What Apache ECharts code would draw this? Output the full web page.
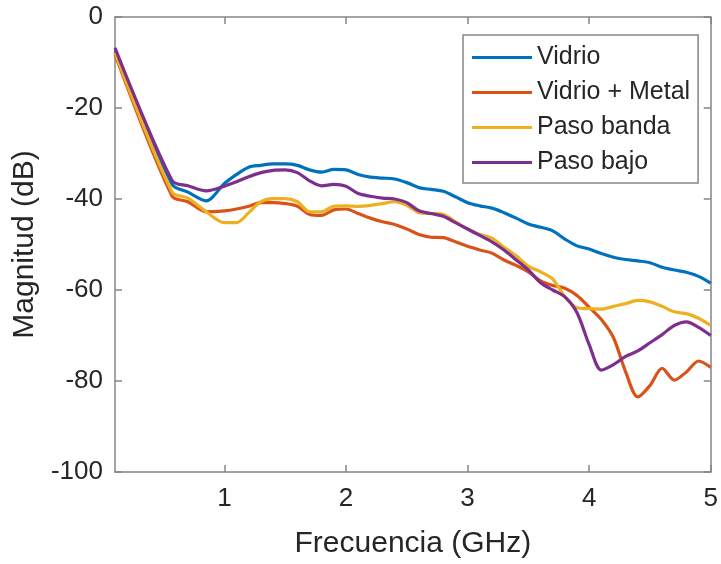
<!DOCTYPE html>
<html>
<head>
<meta charset="utf-8">
<script src="https://cdn.jsdelivr.net/npm/echarts@6/dist/echarts.min.js"></script>
<style>
  html, body { margin: 0; padding: 0; background: #ffffff; }
  #chart { width: 721px; height: 564px; }
</style>
</head>
<body>
<div id="chart"></div>
<script>
// Frequency points (GHz)
const freq = [0.1, 0.57, 0.7, 0.85, 1.0, 1.1, 1.2, 1.3, 1.4, 1.5, 1.6, 1.7, 1.8, 1.9, 2.0,
  2.1, 2.2, 2.3, 2.4, 2.5, 2.6, 2.7, 2.8, 2.9, 3.0, 3.1, 3.2, 3.3, 3.4, 3.5,
  3.6, 3.7, 3.8, 3.9, 4.0, 4.1, 4.2, 4.3, 4.4, 4.5, 4.6, 4.7, 4.8, 4.9, 5.0];

// Magnitude (dB) per configuration
const vidrio = [-7.5, -36.8, -38.5, -40.4, -36.6, -34.6, -33.0, -32.6, -32.3, -32.3, -32.6, -33.6, -34.1, -33.5, -33.6,
  -34.6, -35.2, -35.4, -35.6, -36.4, -37.5, -37.9, -38.3, -39.5, -40.8, -41.5, -42.0, -43.0, -44.2, -45.5,
  -46.2, -47.0, -48.8, -50.3, -51.0, -52.0, -52.8, -53.3, -53.6, -54.0, -55.0, -55.6, -56.1, -57.0, -58.5];
const vidrioMetal = [-8.2, -39.4, -40.6, -42.8, -42.6, -42.2, -41.6, -40.8, -40.8, -41.0, -41.6, -43.4, -43.6, -42.4, -42.2,
  -43.2, -44.2, -45.0, -45.6, -46.6, -47.8, -48.4, -48.5, -49.4, -50.4, -51.2, -51.9, -53.4, -54.6, -56.0,
  -58.0, -59.0, -59.6, -61.2, -63.8, -66.5, -70.5, -78.0, -83.5, -81.0, -77.2, -79.8, -78.0, -75.6, -77.0];
const pasoBanda = [-7.8, -38.5, -39.8, -42.8, -45.2, -45.2, -43.0, -40.6, -39.9, -39.9, -40.6, -42.8, -42.8, -41.6, -41.5,
  -41.6, -41.4, -41.0, -40.6, -41.4, -43.0, -43.2, -43.4, -45.0, -46.6, -47.8, -48.6, -50.6, -52.5, -54.8,
  -56.0, -57.6, -61.5, -63.9, -64.1, -64.2, -63.6, -63.0, -62.3, -62.6, -63.6, -64.8, -65.2, -66.2, -67.8];
const pasoBajo = [-6.8, -36.0, -37.1, -38.2, -37.2, -36.2, -35.1, -34.2, -33.7, -33.6, -34.2, -36.0, -37.1, -36.8, -37.2,
  -38.8, -39.4, -39.8, -40.0, -40.8, -42.6, -43.2, -43.8, -45.2, -46.6, -48.0, -49.4, -51.2, -53.4, -55.6,
  -58.4, -60.0, -61.5, -65.0, -72.0, -77.6, -76.4, -74.6, -73.4, -71.6, -69.8, -67.8, -67.0, -68.2, -70.0];

const seriesNames = ['Vidrio', 'Vidrio + Metal', 'Paso banda', 'Paso bajo'];
const seriesValues = [vidrio, vidrioMetal, pasoBanda, pasoBajo];
const seriesColors = ['#0072BD', '#D95319', '#EDB120', '#7E2F8E'];

const xTicks = [1, 2, 3, 4, 5];
const yMin = -100, yMax = 0, yStep = 20;

const FONT = '"Liberation Sans", Arial, Helvetica, sans-serif';
const AXIS_GRAY = '#858585';
const TEXT = '#262626';

const chart = echarts.init(document.getElementById('chart'), null, { renderer: 'canvas' });

const frameX = (pos, show) => ({
  type: 'value', position: pos, min: 0.1, max: 5,
  axisLine: { show: true, onZero: false, lineStyle: { color: AXIS_GRAY, width: 1.5 } },
  axisTick: { show: true, inside: true, length: 7, customValues: xTicks, lineStyle: { color: AXIS_GRAY, width: 1.5 } },
  axisLabel: { show: show, customValues: xTicks, margin: 14, color: TEXT, fontFamily: FONT, fontSize: 26 },
  splitLine: { show: false }
});
const frameY = (pos, show) => ({
  type: 'value', position: pos, min: yMin, max: yMax, interval: yStep,
  axisLine: { show: true, onZero: false, lineStyle: { color: AXIS_GRAY, width: 1.5 } },
  axisTick: { show: true, inside: true, length: 7, lineStyle: { color: AXIS_GRAY, width: 1.5 } },
  axisLabel: { show: show, margin: 12, color: TEXT, fontFamily: FONT, fontSize: 26 },
  splitLine: { show: false }
});

const xMain = frameX('bottom', true);
xMain.name = 'Frecuencia (GHz)';
xMain.nameLocation = 'middle';
xMain.nameGap = 57;
xMain.nameTextStyle = { color: TEXT, fontFamily: FONT, fontSize: 30 };

const yMain = frameY('left', true);
yMain.name = 'Magnitud (dB)';
yMain.nameLocation = 'middle';
yMain.nameGap = 67;
yMain.nameTextStyle = { color: TEXT, fontFamily: FONT, fontSize: 30 };

chart.setOption({
  animation: false,
  backgroundColor: '#ffffff',
  grid: { left: 115, right: 8, top: 17, bottom: 90, containLabel: false },
  xAxis: [xMain, frameX('top', false)],
  yAxis: [yMain, frameY('right', false)],
  legend: {
    orient: 'vertical',
    left: 463, top: 35,
    padding: [10, 8, 8, 9],
    itemGap: 10,
    itemWidth: 60, itemHeight: 3,
    icon: 'rect',
    backgroundColor: '#ffffff',
    borderColor: AXIS_GRAY, borderWidth: 1.5,
    textStyle: { color: TEXT, fontFamily: FONT, fontSize: 25, lineHeight: 24 },
    data: seriesNames
  },
  series: seriesNames.map((name, i) => ({
    name: name,
    type: 'line',
    xAxisIndex: 0, yAxisIndex: 0,
    data: freq.map((f, k) => [f, seriesValues[i][k]]),
    showSymbol: false,
    symbol: 'none',
    smooth: 0.3,
    color: seriesColors[i],
    lineStyle: { color: seriesColors[i], width: 3.2 },
    itemStyle: { color: seriesColors[i] },
    z: 2 + i
  }))
});
</script>
</body>
</html>
